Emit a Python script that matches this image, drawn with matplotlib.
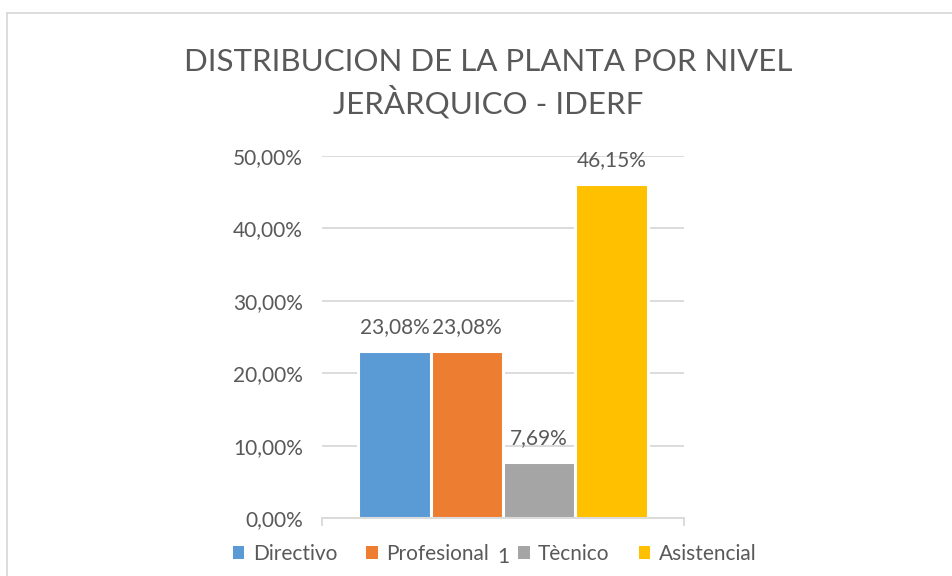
import matplotlib
matplotlib.use("Agg")
import matplotlib.pyplot as plt
from matplotlib.patches import Patch
from matplotlib.lines import Line2D

# Chart data
title = "DISTRIBUCION DE LA PLANTA POR NIVEL\nJERÀRQUICO - IDERF"
category = "1"
series = ["Directivo", "Profesional", "Tècnico", "Asistencial"]
values = [0.2308, 0.2308, 0.0769, 0.4615]
labels = ["23,08%", "23,08%", "7,69%", "46,15%"]
colors = ["#5B9BD5", "#ED7D31", "#A5A5A5", "#FFC000"]

plt.rcParams['font.family'] = ['Lato', 'DejaVu Sans']
text_color = "#595959"
grid_color = "#D9D9D9"

fig = plt.figure(figsize=(9.53, 5.76), dpi=100)
ax = fig.add_axes([0.338, 0.1007, 0.3797, 0.6283])

width = 0.2
for i, (val, lab, col) in enumerate(zip(values, labels, colors)):
    x = (i - 1.5) * width
    ax.bar(x, val, width=width, color=col, edgecolor="white", linewidth=2.2, zorder=2)
    ax.annotate(lab, (x, val), xytext=(0, 13), textcoords="offset points",
                ha="center", va="baseline", fontsize=15, color=text_color)

ax.set_xlim(-0.5, 0.5)
ax.set_ylim(0, 0.5)
ax.set_yticks([0, 0.1, 0.2, 0.3, 0.4, 0.5])
ax.set_yticklabels([("%.2f%%" % (v * 100)).replace(".", ",") for v in ax.get_yticks()])
ax.yaxis.grid(True, color=grid_color, linewidth=1.3, zorder=0)
ax.set_axisbelow(True)
ax.tick_params(axis="y", length=0, pad=14, labelsize=15, labelcolor=text_color)

ax.set_xticks([0])
ax.set_xticklabels([category])
ax.set_xticks([-0.5, 0.5], minor=True)
ax.tick_params(axis="x", which="major", length=0, pad=21, labelsize=15, labelcolor=text_color)
ax.tick_params(axis="x", which="minor", length=6, width=1.3, color=grid_color)

for side in ["top", "right", "left"]:
    ax.spines[side].set_visible(False)
ax.spines["bottom"].set_color(grid_color)
ax.spines["bottom"].set_linewidth(1.3)

fig.text(0.512, 0.855, title, ha="center", va="center", fontsize=22.5,
         fontweight="normal", color=text_color, linespacing=1.3)

handles = [Patch(facecolor=c, edgecolor="none") for c in colors]
fig.legend(handles, series, ncol=4, loc="center", bbox_to_anchor=(0.519, 0.038),
           frameon=False, fontsize=15, labelcolor=text_color,
           handlelength=0.55, handleheight=0.55, handletextpad=0.4, columnspacing=1.4)

# chart area border (top and left edges only visible)
fig.add_artist(Line2D([7.5 / 953, 1], [1 - 12.5 / 576] * 2, color=grid_color, linewidth=1.3))
fig.add_artist(Line2D([7.5 / 953] * 2, [0, 1 - 12.5 / 576], color=grid_color, linewidth=1.3))

fig.savefig("out.png", dpi=100)
